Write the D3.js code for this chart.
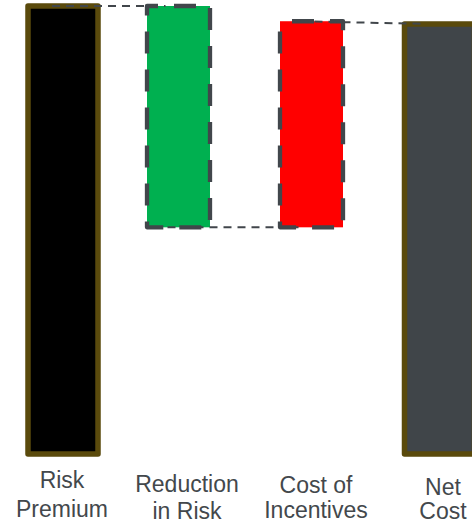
<!DOCTYPE html>
<html>
<head>
<meta charset="utf-8">
<script src="https://cdn.jsdelivr.net/npm/d3@7"></script>
<style>
  html, body { margin: 0; padding: 0; background: #ffffff; }
  svg { display: block; }
</style>
</head>
<body>
<div id="chart"></div>
<script>
// ---- data ----
const categories = ["Risk Premium", "Reduction in Risk", "Cost of Incentives", "Net Cost"];
const labelLines = [["Risk", "Premium"], ["Reduction", "in Risk"], ["Cost of", "Incentives"], ["Net", "Cost"]];
const values = [100, -49.4, 46, 96];
const kinds = ["total", "delta", "delta", "total"];

// ---- styles ----
const fills = ["#000000", "#00b050", "#ff0000", "#404549"];
const dashOffsets = [0, 11, 26, 0];

// ---- layout ----
const W = 472, H = 529;
const svg = d3.select("#chart").append("svg").attr("width", W).attr("height", H);

const y = d3.scaleLinear().domain([0, 100]).range([454, 6]);
const xBar = d3.scaleOrdinal().domain(categories).range([63, 178.5, 311.5, 439.5]);
const xLabel = d3.scaleOrdinal().domain(categories).range([62, 187, 316, 443]);
const yLabel1 = d3.scaleOrdinal().domain(categories).range([488, 492, 493, 495]);
const yLabel2 = d3.scaleOrdinal().domain(categories).range([517, 519, 518, 519]);
const barWidth = d3.scaleOrdinal().domain(["total", "delta"]).range([70, 63]);

// compute waterfall extents
let cum = 0;
const bars = categories.map((c, i) => {
  let lo, hi, end;
  if (kinds[i] === "total") {
    lo = 0; hi = values[i]; cum = values[i]; end = values[i];
  } else {
    const start = cum; cum = cum + values[i];
    lo = Math.min(start, cum); hi = Math.max(start, cum); end = cum;
  }
  return { cat: c, kind: kinds[i], lo, hi, end, fill: fills[i], off: dashOffsets[i], i };
});

const g = svg.append("g");

// bars
g.selectAll("rect.bar").data(bars).join("rect")
  .attr("class", "bar")
  .attr("x", d => xBar(d.cat) - barWidth(d.kind) / 2)
  .attr("width", d => barWidth(d.kind))
  .attr("y", d => y(d.hi))
  .attr("height", d => y(d.lo) - y(d.hi))
  .attr("fill", d => d.fill)
  .attr("stroke", d => d.kind === "total" ? "#5a4a0c" : "#41464b")
  .attr("stroke-width", d => d.kind === "total" ? 5.5 : 4.3)
  .attr("stroke-dasharray", d => d.kind === "total" ? null : "22,16")
  .attr("stroke-dashoffset", d => d.off)
  .attr("stroke-linejoin", "round");

// connectors
const links = d3.range(bars.length - 1).map(i => {
  const a = bars[i], b = bars[i + 1];
  const yEnd = b.kind === "total" ? b.hi : a.end;
  return { x1: xBar(a.cat) - 11, y1: a.end, x2: xBar(b.cat) - 13, y2: yEnd };
});
g.selectAll("line.conn").data(links).join("line")
  .attr("class", "conn")
  .attr("x1", d => d.x1).attr("x2", d => d.x2)
  .attr("y1", d => y(d.y1)).attr("y2", d => y(d.y2))
  .attr("stroke", "#41464b")
  .attr("stroke-width", 2)
  .attr("stroke-dasharray", "8,6");

// labels
const lab = g.selectAll("text.lab").data(categories).join("text")
  .attr("class", "lab")
  .attr("text-anchor", "middle")
  .attr("font-family", "'Liberation Sans', Arial, sans-serif")
  .attr("font-size", 23)
  .attr("fill", "#43484c");
lab.each(function(d, i) {
  d3.select(this).selectAll("tspan").data(labelLines[i]).join("tspan")
    .attr("x", xLabel(d))
    .attr("y", (t, j) => j === 0 ? yLabel1(d) : yLabel2(d))
    .text(t => t);
});
</script>
</body>
</html>
